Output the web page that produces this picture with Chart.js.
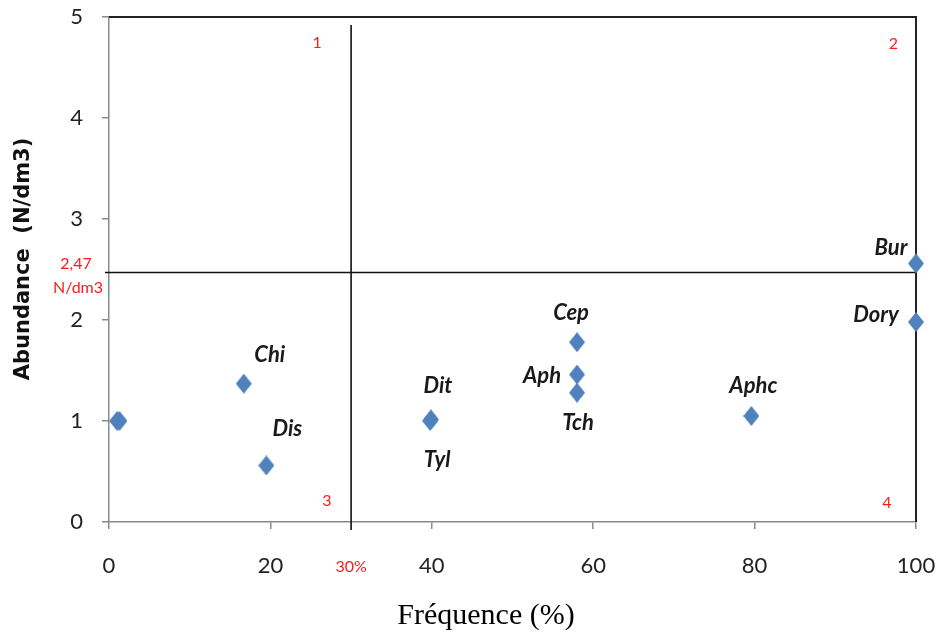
<!DOCTYPE html>
<html>
<head>
<meta charset="utf-8">
<script src="https://cdn.jsdelivr.net/npm/chart.js@4/dist/chart.umd.min.js"></script>
<style>
  html, body { margin: 0; padding: 0; background: #fff; }
  #wrap { width: 937px; height: 632px; }
</style>
</head>
<body>
<div id="wrap"><canvas id="c" width="937" height="632"></canvas></div>
<script>
// Species codes, occurrence frequency (%) and abundance (N/dm3)
const species   = ['', '', 'Chi', 'Dis', 'Dit', 'Tyl', 'Cep', 'Aph', 'Tch', 'Aphc', 'Bur', 'Dory'];
const frequency = [1.0, 1.3, 16.7, 19.5, 39.9, 39.8, 58, 58, 58, 79.6, 100, 100];
const abundance = [1.0, 1.0, 1.37, 0.56, 1.015, 1.0, 1.78, 1.46, 1.28, 1.05, 2.56, 1.98];

const xTicks = [0, 20, 40, 60, 80, 100];
const yTicks = [0, 1, 2, 3, 4, 5];

// Thresholds separating the four groups
const freqThreshold  = 30;
const abundThreshold = 2.47;
const quadrantNames  = ['1', '2', '3', '4'];

// Where each species code sits relative to its marker (px)
const labelOffsets = {
  Chi: [26, -29], Dis: [21, -37], Dit: [7, -34], Tyl: [7, 39],
  Cep: [-6, -29], Aph: [-35, 1], Tch: [1, 30], Aphc: [2, -30],
  Bur: [-25, -16], Dory: [-40, -7]
};
// Quadrant number anchors in data units
const quadrantAnchors = [[25.8, 4.74], [97.2, 4.73], [27.0, 0.21], [96.4, 0.19]];

const points = frequency.map((f, i) => ({ x: f, y: abundance[i] }));

const RED = '#ff1a1a';
const MARKER_BLUE = '#4F81BD';

// Slightly tall diamond marker
function diamondMarker(w, h, color) {
  const cv = document.createElement('canvas');
  cv.width = w; cv.height = h;
  const g = cv.getContext('2d');
  g.fillStyle = color;
  g.beginPath();
  g.moveTo(w / 2, 0);
  g.lineTo(w, h / 2);
  g.lineTo(w / 2, h);
  g.lineTo(0, h / 2);
  g.closePath();
  g.fill();
  return cv;
}

const decorations = {
  id: 'decorations',
  beforeDatasetsDraw(chart) {
    const { ctx, chartArea: a } = chart;
    ctx.save();
    ctx.strokeStyle = '#222';
    ctx.lineWidth = 2;
    ctx.beginPath();
    ctx.moveTo(a.left, a.top);
    ctx.lineTo(a.right, a.top);
    ctx.lineTo(a.right, a.bottom);
    ctx.stroke();
    ctx.restore();
  },
  afterDraw(chart) {
    const { ctx, chartArea: a, scales } = chart;
    const xs = scales.x, ys = scales.y;
    ctx.save();

    // species codes
    ctx.font = 'italic bold 22px Lato';
    ctx.fillStyle = '#1a1a1a';
    ctx.textAlign = 'center';
    ctx.textBaseline = 'middle';
    species.forEach((name, i) => {
      if (!name) return;
      const off = labelOffsets[name];
      ctx.fillText(name, xs.getPixelForValue(frequency[i]) + off[0],
                         ys.getPixelForValue(abundance[i]) + off[1]);
    });

    // quadrant numbers and threshold notes
    ctx.font = '16px Lato';
    ctx.fillStyle = RED;
    quadrantNames.forEach((q, i) => {
      ctx.fillText(q, xs.getPixelForValue(quadrantAnchors[i][0]),
                      ys.getPixelForValue(quadrantAnchors[i][1]));
    });
    const ty = ys.getPixelForValue(abundThreshold);
    ctx.fillText(abundThreshold.toString().replace('.', ','), a.left - 33, ty - 9);
    ctx.fillText('N/dm3', a.left - 31, ty + 15);
    ctx.fillText(freqThreshold + '%', xs.getPixelForValue(freqThreshold), a.bottom + 45);

    // axis titles
    ctx.fillStyle = '#111';
    ctx.font = 'bold 21px "DejaVu Sans"';
    ctx.save();
    ctx.translate(24, 259);
    ctx.rotate(-Math.PI / 2);
    ctx.fillText('Abundance  (N/dm3)', 0, 0);
    ctx.restore();

    ctx.font = '30px "Liberation Serif"';
    ctx.textBaseline = 'alphabetic';
    ctx.fillStyle = '#000';
    ctx.fillText('Fréquence (%)', 486, 624);
    ctx.restore();
  }
};

// Keep the plot box fixed: no extra room reserved for overhanging tick labels
function fixBox(size, dim) {
  return s => {
    s[dim] = size;
    s.paddingLeft = s.paddingRight = s.paddingTop = s.paddingBottom = 0;
  };
}

new Chart(document.getElementById('c'), {
  type: 'scatter',
  data: {
    datasets: [
      {
        data: points,
        pointStyle: diamondMarker(16, 20, MARKER_BLUE),
        pointRadius: 8,
        pointHoverRadius: 8,
        backgroundColor: MARKER_BLUE,
        borderWidth: 0,
        clip: false
      },
      {
        type: 'line',
        data: [{ x: freqThreshold, y: -0.08 }, { x: freqThreshold, y: 4.92 }],
        borderColor: '#111',
        borderWidth: 1.6,
        pointRadius: 0,
        clip: false
      },
      {
        type: 'line',
        data: [{ x: -0.5, y: abundThreshold }, { x: 100, y: abundThreshold }],
        borderColor: '#111',
        borderWidth: 1.6,
        pointRadius: 0,
        clip: false
      }
    ]
  },
  options: {
    responsive: false,
    animation: false,
    devicePixelRatio: 1,
    layout: { padding: { top: 17, right: 21, left: 0, bottom: 0 } },
    plugins: { legend: { display: false }, tooltip: { enabled: false } },
    scales: {
      x: {
        type: 'linear',
        min: 0, max: 100,
        afterBuildTicks: s => { s.ticks = xTicks.map(v => ({ value: v })); },
        afterFit: fixBox(110, 'height'),
        grid: { drawOnChartArea: false, tickLength: 7, color: '#8a8a8a', lineWidth: 1.5 },
        border: { color: '#8a8a8a', width: 1.5 },
        ticks: { font: { family: 'Lato', size: 22 }, color: '#222', padding: 24, maxRotation: 0 }
      },
      y: {
        type: 'linear',
        min: 0, max: 5,
        afterBuildTicks: s => { s.ticks = yTicks.map(v => ({ value: v })); },
        afterFit: fixBox(109, 'width'),
        grid: { drawOnChartArea: false, tickLength: 7, color: '#8a8a8a', lineWidth: 1.5 },
        border: { color: '#8a8a8a', width: 1.5 },
        ticks: { font: { family: 'Lato', size: 22 }, color: '#222', padding: 19 }
      }
    }
  },
  plugins: [decorations]
});
</script>
</body>
</html>
